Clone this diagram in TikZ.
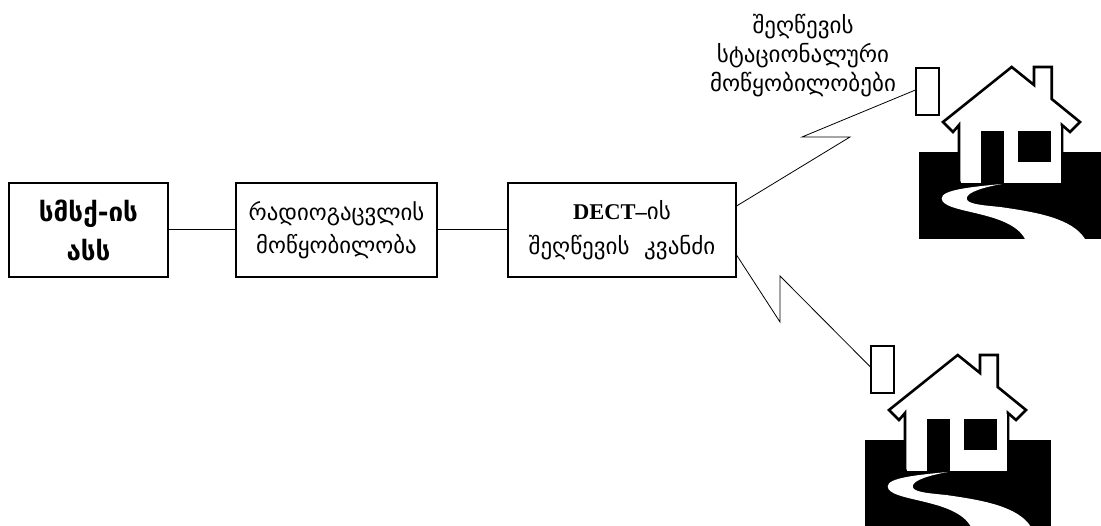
\documentclass[tikz,border=0pt]{standalone}
\usepackage{fontspec}
\setmainfont{DejaVu Sans}
\newfontfamily\latinfont{Liberation Serif}
\begin{document}
\tikzset{
  x=1pt,y=-1pt,
  boxnode/.style={draw=black,line width=1.1pt,fill=white,inner sep=0pt,align=center,text=black},
  wire/.style={draw=black,line width=1pt},
  zig/.style={draw=black,line width=0.8pt,line join=miter},
  unitbox/.style={draw=black,line width=1.1pt,fill=white,minimum width=23pt,minimum height=47pt,inner sep=0pt},
  lbl/.style={align=center,inner sep=0pt,text=black},
  house/.pic={
    \fill[black] (919,152) rectangle (1105,239);
    \draw[black,fill=white,line width=2.6pt,miter limit=4]
      (1011.7,67) -- (1034,85) -- (1034,67) -- (1051.7,67) -- (1051.7,99) -- (1080,122)
      -- (1070,132) -- (1062,125) -- (1062,183) -- (959,183) -- (959,125) -- (953,132) -- (943,122) -- cycle;
    \fill[white] (961,126) rectangle (1061,183);
    \fill[black] (980.7,131) rectangle (1004.3,184);
    \fill[black] (1018.3,131) rectangle (1051,162);
    \fill[black] (959,183.2) rectangle (1063,186);
    \fill[white] (1001.7,184)
      .. controls (970,187) and (941.7,190) .. (941.7,198.3)
      .. controls (941.7,214) and (1010,210) .. (1025,239)
      -- (1085,239)
      .. controls (1072,218) and (1035,212) .. (1000,207)
      .. controls (980,205) and (966.7,204) .. (966.7,198.3)
      .. controls (966.7,192) and (985,187) .. (1001.7,184) -- cycle;
  }
}
\begin{tikzpicture}
\useasboundingbox (0,0) rectangle (1101,526);
\clip (0,0) rectangle (1101,526);
\fill[white] (0,0) rectangle (1101,526);
\node[boxnode,minimum width=159pt,minimum height=94pt,font=\fontsize{26}{39}\selectfont\bfseries] (a) at (88.5,230) {სმსქ-ის\\ასს};
\node[boxnode,minimum width=201pt,minimum height=94pt,font=\fontsize{22.8}{33}\selectfont] (b) at (336.5,230) {რადიოგაცვლის\\მოწყობილობა};
\node[boxnode,minimum width=228pt,minimum height=94pt,font=\fontsize{23}{35}\selectfont] (c) at (622,230) {{\latinfont\bfseries\fontsize{22.5}{35}\selectfont DECT–}ის\\შეღწევის\ \ კვანძი};
\draw[wire] (a) -- (b);
\draw[wire] (b) -- (c);
\pic (h1) at (0,0) {house};
\pic (h2) at (-54,288) {house};
\node[unitbox] (u1) at (927.5,91.5) {};
\node[unitbox] (u2) at (882.5,369.5) {};
\node[lbl,font=\fontsize{23}{29}\selectfont] (t) at (803,56) {შეღწევის\\სტაციონალური\\მოწყობილობები};
\coordinate (p1) at (850,137);
\coordinate (p2) at (802,137);
\coordinate (q1) at (780,322);
\coordinate (q2) at (780,276);
\draw[zig] (c.east |- 0,206) -- (p1) -- (p2) -- (u1.west |- 0,90);
\draw[zig] (c.east |- 0,255) -- (q1) -- (q2) -- (u2.west |- 0,367);
\end{tikzpicture}
\end{document}
